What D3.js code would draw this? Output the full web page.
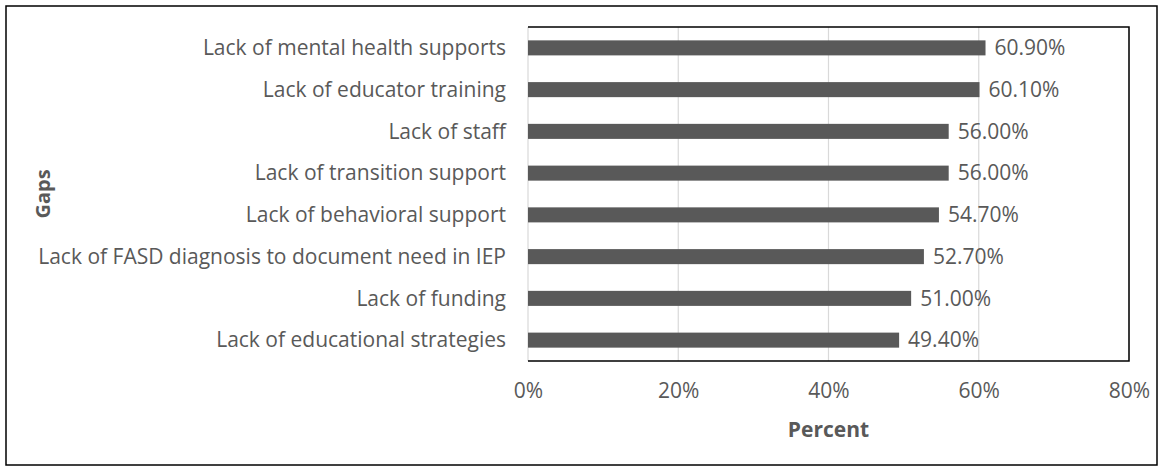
<!DOCTYPE html>
<html>
<head>
<meta charset="utf-8">
<script src="https://cdn.jsdelivr.net/npm/d3@7"></script>
<style>
  body { margin: 0; background: #fff; }
  text { font-family: "Open Sans", sans-serif; fill: #595959; }
</style>
</head>
<body>
<div id="chart"></div>
<script>
const categories = [
  'Lack of mental health supports',
  'Lack of educator training',
  'Lack of staff ',
  'Lack of transition support',
  'Lack of behavioral support',
  'Lack of FASD diagnosis to document need in IEP',
  'Lack of funding',
  'Lack of educational strategies'
]
const values = [60.9, 60.1, 56.0, 56.0, 54.7, 52.7, 51.0, 49.4]
const tickValues = [0, 20, 40, 60, 80]

const width = 1158
const height = 466
const margin = { top: 27, right: 29, bottom: 105, left: 528 }
const fontSize = 21

const svg = d3.select('#chart').append('svg')
  .attr('width', width)
  .attr('height', height)

// outer frame
svg.append('rect')
  .attr('x', 6).attr('y', 6)
  .attr('width', 1151).attr('height', 459)
  .attr('fill', 'none')
  .attr('stroke', '#000')
  .attr('stroke-width', 1.5)

const x = d3.scaleLinear()
  .domain([0, 80])
  .range([margin.left, width - margin.right])

const y = d3.scaleBand()
  .domain(categories)
  .range([margin.top, height - margin.bottom])
  .paddingInner(0.64)
  .paddingOuter(0.32)

const plotTop = margin.top
const plotBottom = height - margin.bottom

// gridlines
svg.append('g')
  .selectAll('line')
  .data(tickValues)
  .join('line')
  .attr('x1', d => x(d)).attr('x2', d => x(d))
  .attr('y1', plotTop).attr('y2', plotBottom)
  .attr('stroke', '#d9d9d9')
  .attr('stroke-width', 1.2)

// plot box: top, right, bottom dark
svg.append('path')
  .attr('d', `M${x(0)},${plotTop}H${x(80)}V${plotBottom}H${x(0)}`)
  .attr('fill', 'none')
  .attr('stroke', '#000')
  .attr('stroke-width', 1.5)

// bars
svg.append('g')
  .selectAll('rect')
  .data(values)
  .join('rect')
  .attr('x', x(0))
  .attr('y', (d, i) => y(categories[i]))
  .attr('width', d => x(d) - x(0))
  .attr('height', y.bandwidth())
  .attr('fill', '#595959')

// value labels
svg.append('g')
  .selectAll('text')
  .data(values)
  .join('text')
  .attr('x', d => x(d) + 9)
  .attr('y', (d, i) => y(categories[i]) + y.bandwidth() / 2)
  .attr('dy', '0.35em')
  .attr('font-size', fontSize)
  .text(d => d.toFixed(2) + '%')

// category labels
svg.append('g')
  .selectAll('text')
  .data(categories)
  .join('text')
  .attr('x', x(0) - 22)
  .attr('y', d => y(d) + y.bandwidth() / 2)
  .attr('dy', '0.35em')
  .attr('text-anchor', 'end')
  .attr('font-size', fontSize)
  .text(d => d)

// x axis tick labels
const xAxis = d3.axisBottom(x)
  .tickValues(tickValues)
  .tickFormat(d => d + '%')
  .tickSize(0)
  .tickPadding(0)

const gx = svg.append('g')
  .attr('transform', `translate(0,${plotBottom + 22})`)
  .call(xAxis)
gx.select('.domain').remove()
gx.selectAll('text')
  .attr('font-size', fontSize)
  .attr('font-family', '"Open Sans", sans-serif')
  .attr('fill', '#595959')

// axis titles
svg.append('text')
  .attr('x', x(40))
  .attr('y', plotBottom + 69)
  .attr('text-anchor', 'middle')
  .attr('dy', '0.35em')
  .attr('font-size', fontSize)
  .attr('font-weight', 'bold')
  .text('Percent')

svg.append('text')
  .attr('transform', `translate(${43},${(plotTop + plotBottom) / 2}) rotate(-90)`)
  .attr('text-anchor', 'middle')
  .attr('dy', '0.35em')
  .attr('font-size', fontSize - 1)
  .attr('font-weight', 'bold')
  .text('Gaps')
</script>
</body>
</html>
